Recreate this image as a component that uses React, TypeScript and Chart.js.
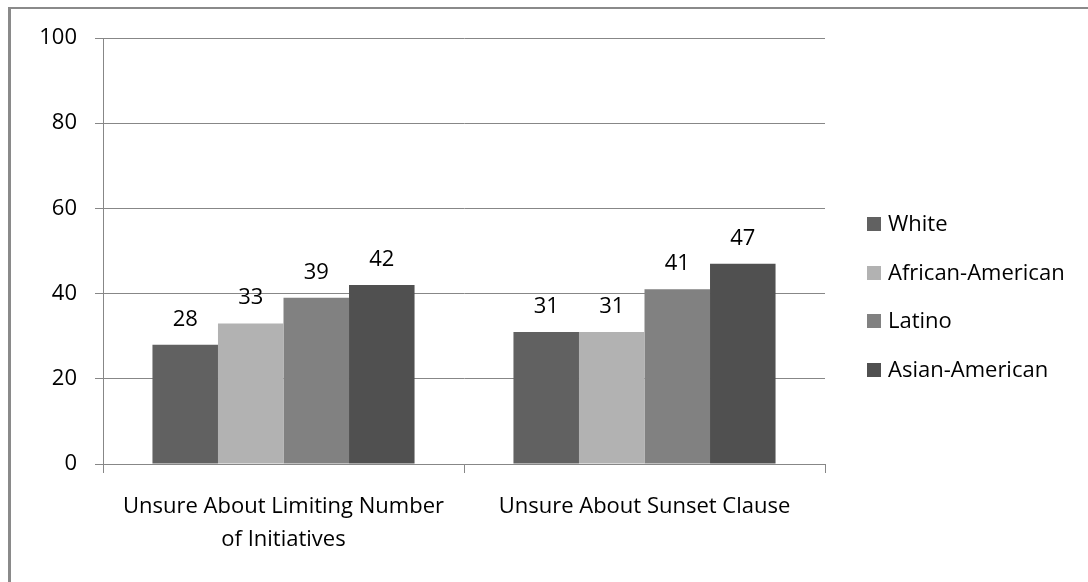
import { useEffect, useRef } from "react";
import { Chart, registerables } from "chart.js";

Chart.register(...registerables);

// Survey categories (multi-line labels are arrays)
const categories: (string | string[])[] = [
  ["Unsure About Limiting Number", "of Initiatives"],
  "Unsure About Sunset Clause",
];

// Percent of each group, per category
const groupNames = ["White", "African-American", "Latino", "Asian-American"];
const white = [28, 31];
const africanAmerican = [33, 31];
const latino = [39, 41];
const asianAmerican = [42, 47];

const yTicks = [0, 20, 40, 60, 80, 100];

const palette = ["#616161", "#b2b2b2", "#818181", "#505050"];
const FONT = "'Open Sans', Lato, sans-serif";
const GRID = "#878787";

// Numbers printed above each bar
const valueLabels = {
  id: "valueLabels",
  afterDatasetsDraw(chart: any) {
    const ctx = chart.ctx;
    ctx.save();
    ctx.font = `22px ${FONT}`;
    ctx.fillStyle = "#000";
    ctx.textAlign = "center";
    ctx.textBaseline = "alphabetic";
    chart.data.datasets.forEach((ds: any, i: number) => {
      chart.getDatasetMeta(i).data.forEach((bar: any, j: number) => {
        ctx.fillText(String(ds.data[j]), bar.x, bar.y - 19);
      });
    });
    ctx.restore();
  },
};

// Vertical legend to the right of the plot
const sideLegend = {
  id: "sideLegend",
  afterDraw(chart: any) {
    const ctx = chart.ctx;
    const boxX = 867;
    const box = 14;
    const textX = 888;
    const firstY = 224;
    const gap = 48.6;
    ctx.save();
    ctx.font = `22px ${FONT}`;
    ctx.textAlign = "left";
    ctx.textBaseline = "middle";
    chart.data.datasets.forEach((ds: any, i: number) => {
      const cy = firstY + i * gap;
      ctx.fillStyle = ds.backgroundColor;
      ctx.fillRect(boxX, Math.round(cy - box / 2), box, box);
      ctx.fillStyle = "#000";
      ctx.fillText(ds.label, textX, cy + 1);
    });
    ctx.restore();
  },
};

export default function App() {
  const canvasRef = useRef<HTMLCanvasElement | null>(null);

  useEffect(() => {
    if (!canvasRef.current) return;
    const series = [white, africanAmerican, latino, asianAmerican];
    const chart = new Chart(canvasRef.current, {
      type: "bar",
      data: {
        labels: categories,
        datasets: series.map((data, i) => ({
          label: groupNames[i],
          data,
          backgroundColor: palette[i],
          borderWidth: 0,
          categoryPercentage: 0.726,
          barPercentage: 1,
        })),
      },
      options: {
        responsive: false,
        animation: false,
        layout: { padding: { left: 0, top: 38, right: 263, bottom: 0 } },
        plugins: {
          legend: { display: false },
          tooltip: { enabled: false },
        },
        scales: {
          x: {
            grid: {
              display: true,
              drawOnChartArea: false,
              tickLength: 9,
              color: GRID,
              offset: true,
            },
            border: { color: GRID },
            ticks: {
              color: "#000",
              font: { family: FONT, size: 22, lineHeight: 1.5 },
              padding: 17,
              maxRotation: 0,
              autoSkip: false,
            },
            afterFit(scale: any) {
              scale.height = 118;
            },
          },
          y: {
            min: 0,
            max: 100,
            grid: { color: GRID, tickLength: 8 },
            border: { color: GRID },
            ticks: {
              color: "#000",
              font: { family: FONT, size: 22 },
              padding: 18,
            },
            afterBuildTicks(scale: any) {
              scale.ticks = yTicks.map((value) => ({ value }));
            },
            afterFit(scale: any) {
              scale.width = 103;
            },
          },
        },
      },
      plugins: [valueLabels, sideLegend],
    });
    return () => chart.destroy();
  }, []);

  return (
    <div
      style={{
        position: "fixed",
        left: 0,
        top: 0,
        width: 1088,
        height: 582,
        overflow: "hidden",
        background: "#fff",
      }}
    >
      <div
        style={{
          position: "absolute",
          left: 8,
          top: 7,
          width: 1100,
          height: 600,
          borderTop: "2px solid #8a8a8a",
          borderLeft: "3px solid #8a8a8a",
        }}
      />
      <canvas
        ref={canvasRef}
        width={1088}
        height={582}
        style={{ position: "absolute", left: 0, top: 0, display: "block" }}
      />
    </div>
  );
}
